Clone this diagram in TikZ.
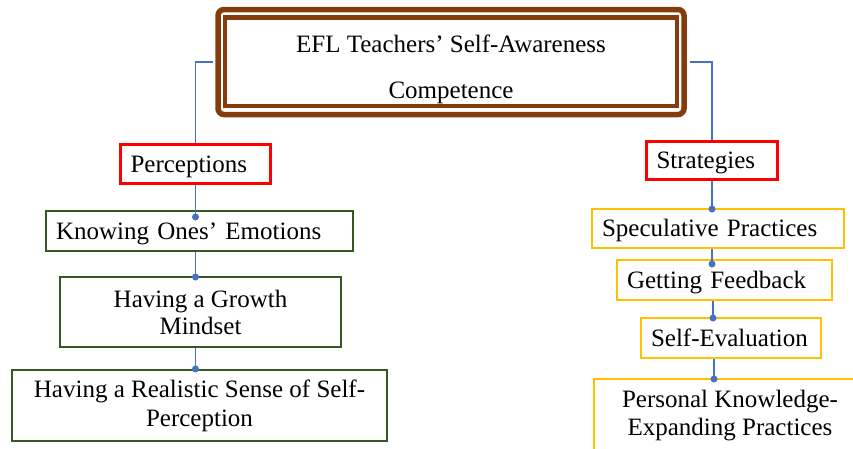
\documentclass[tikz,border=0pt]{standalone}
\usepackage{fontspec}
\setmainfont{Liberation Serif}
\usetikzlibrary{calc}
\definecolor{brn}{HTML}{843C0C}
\definecolor{redc}{HTML}{FF0000}
\definecolor{grn}{HTML}{385723}
\definecolor{ylw}{HTML}{FFC000}
\definecolor{blu}{HTML}{4472C4}
\begin{document}
\begin{tikzpicture}[x=1pt,y=-1pt,
  base/.style={draw, inner ysep=0pt, font=\fontsize{25}{28}\selectfont},
  lbox/.style={base, inner xsep=10pt, align=left, text height=20pt, text depth=4pt},
  redbox/.style={lbox, draw=redc, line width=3pt},
  gbox/.style={lbox, draw=grn, line width=2pt},
  gcbox/.style={base, draw=grn, line width=2pt, align=center},
  ybox/.style={lbox, draw=ylw, line width=2pt},
  ycbox/.style={base, draw=ylw, line width=2pt, align=center},
  conn/.style={draw=blu, line width=1.5pt},
  dotc/.style={fill=blu}
]
\useasboundingbox (0,0) rectangle (853,448);
\clip (0,0) rectangle (853,448);

% title boxes
\node[draw=brn, line width=5.5pt, rounded corners=6pt, minimum width=466pt, minimum height=105pt] (mainouter) at (451,62) {};
\node[draw=brn, line width=4.5pt, minimum width=452pt, minimum height=88.5pt, inner ysep=0pt, align=center, font=\fontsize{25}{46}\selectfont] (main) at (451,61.5) {\rule{0pt}{33pt}EFL Teachers’ Self-Awareness\\Competence};

% left column
\node[redbox, text width=130pt, minimum height=39pt] (perc) at (195.5,164) {Perceptions};
\node[gbox, text width=287pt, minimum height=40pt] (know) at (199.5,231) {Knowing Ones’ Emotions};
\node[gcbox, font=\fontsize{25}{27}\selectfont, minimum width=281pt, minimum height=70pt] (grow) at (200.5,312) {Having a Growth\\Mindset};
\node[gcbox, font=\fontsize{25}{29}\selectfont, minimum width=375pt, minimum height=71pt] (real) at (199.5,405.5) {Having a Realistic Sense of Self-\\Perception};

% right column
\node[redbox, text width=111pt, minimum height=38pt] (strat) at (712,160.5) {Strategies};
\node[ybox, text width=232pt, minimum height=39pt] (spec) at (718,228.5) {Speculative Practices};
\node[ybox, text width=195pt, minimum height=40pt] (feed) at (724.5,280) {Getting Feedback};
\node[ybox, text width=160pt, minimum height=40pt] (eval) at (731,338) {Self-Evaluation};
\node[ycbox, font=\fontsize{25}{28}\selectfont, minimum width=272pt, minimum height=73.4pt] (pers) at (730,415.7) {Personal Knowledge-\\Expanding Practices};

% connectors from title
\draw[conn, shorten <=2.75pt] (mainouter.west) -| (perc.north);
\draw[conn, shorten <=2.75pt] (mainouter.east) -| (strat.north);

% left chain
\path (perc.south |- know.north) ++(0,7) coordinate (d1);
\path (perc.south |- grow.north) ++(0,1) coordinate (d2);
\path (perc.south |- real.north) coordinate (d3);
\draw[conn] (perc.south) -- (d1);
\draw[conn] (d1 |- know.south) -- (d2);
\draw[conn] (d1 |- grow.south) -- (d3);
\fill[dotc] (d1) circle (3.5pt);
\fill[dotc] (d2) circle (3.5pt);
\fill[dotc] (d3) circle (3.5pt);

% right chain
\path (strat.south |- spec.north) ++(0,1) coordinate (r1);
\path (strat.south |- feed.north) ++(0,5) coordinate (r2);
\path (strat.south |- eval.north) ++(1,1) coordinate (r3);
\path (strat.south |- pers.north) ++(2,1) coordinate (r4);
\draw[conn] (strat.south) -- (r1);
\draw[conn] (r1 |- spec.south) -- (r2);
\draw[conn] (r3 |- feed.south) -- (r3);
\draw[conn] (r4 |- eval.south) -- (r4);
\fill[dotc] (r1) circle (3.5pt);
\fill[dotc] (r2) circle (3.5pt);
\fill[dotc] (r3) circle (3.5pt);
\fill[dotc] (r4) circle (3.5pt);
\end{tikzpicture}
\end{document}
